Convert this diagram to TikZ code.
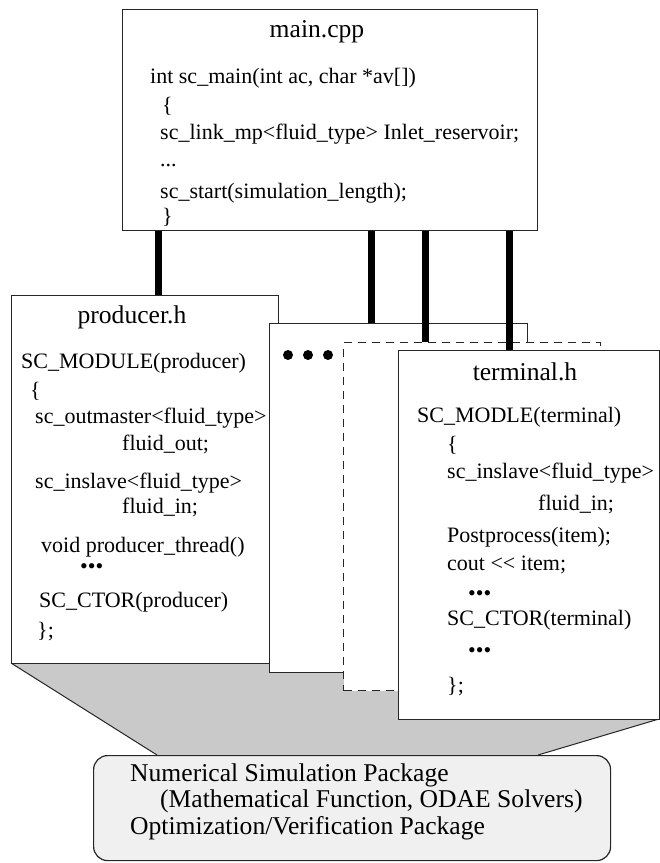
\documentclass[tikz,border=0pt]{standalone}
\usepackage{fontspec}
\setmainfont{Liberation Serif}
\begin{document}
\begin{tikzpicture}[x=1pt,y=-1pt,
  frame/.style={draw=black!85, line width=1.1pt, fill=white, anchor=north west, inner sep=0pt},
  dashframe/.style={frame, dash pattern=on 8pt off 6pt},
  link/.style={line width=7pt, black},
  code/.style={anchor=west, inner sep=0pt, font=\fontsize{22}{26.4}\selectfont},
  title/.style={inner sep=0pt, font=\fontsize{25.6}{30.7}\selectfont},
  pkg/.style={anchor=west, inner sep=0pt, font=\fontsize{25.6}{30.7}\selectfont},
  bigdot/.style={fill=black, draw=none}]
\useasboundingbox (0,0) rectangle (660,863);

% shaded funnel from the modules down to the library box
\fill[black!21] (11,663) -- (659,663) -- (659,719) -- (538,755) -- (157,755) -- cycle;
\draw[line width=1pt, black!85] (11,663) -- (157,755);
\draw[line width=1pt, black!85] (659,719) -- (538,755);

% library box
\node[draw=black!85, line width=1.2pt, fill=black!6, rounded corners=14pt,
      anchor=north west, minimum width=517pt, minimum height=105pt] (lib) at (93,755) {};

% main program
\node[frame, minimum width=415pt, minimum height=221pt] (main) at (122,9) {};
% modules
\node[frame, minimum width=267pt, minimum height=368pt] (prod) at (11,295) {};
\node[frame, minimum width=258pt, minimum height=349pt] (mid) at (269,323) {};
\node[dashframe, minimum width=257pt, minimum height=348pt] (dash) at (343,342) {};
\node[frame, minimum width=261pt, minimum height=369pt] (term) at (398,350) {};

% main.cpp
\node[title] (mtitle) at (317,32) {main.cpp};
\node[code] (m1) at (150,78) {\strut int sc\_main(int ac, char *av[])};
\node[code] (m2) at (162,107) {\strut \{};
\node[code] (m3) at (160,134) {\strut sc\_link\_mp<fluid\_type> Inlet\_reservoir;};
\node[code] (m4) at (160,161) {\strut ...};
\node[code] (m5) at (160,193) {\strut sc\_start(simulation\_length);};
\node[code] (m6) at (162,218) {\strut \}};

% producer.h
\node[title] (ptitle) at (132,317) {producer.h};
\node[code] (p1) at (21,363) {\strut SC\_MODULE(producer)};
\node[code] (p2) at (30,392) {\strut \{};
\node[code] (p3) at (35,418) {\strut sc\_outmaster<fluid\_type>};
\node[code] (p4) at (122,445) {\strut fluid\_out;};
\node[code] (p5) at (35,483) {\strut sc\_inslave<fluid\_type>};
\node[code] (p6) at (122,508) {\strut fluid\_in;};
\node[code] (p7) at (41,547) {\strut void producer\_thread()};
\node[code] (p8) at (80,568) {\strut •••};
\node[code] (p9) at (39,602) {\strut SC\_CTOR(producer)};
\node[code] (p10) at (37,632) {\strut \};};

% terminal.h
\node[title] (ttitle) at (525,372) {terminal.h};
\node[code] (t1) at (417,417) {\strut SC\_MODLE(terminal)};
\node[code] (t2) at (447,446) {\strut \{};
\node[code] (t3) at (447,473) {\strut sc\_inslave<fluid\_type>};
\node[code] (t4) at (538,505) {\strut fluid\_in;};
\node[code] (t5) at (447,537) {\strut Postprocess(item);};
\node[code] (t6) at (447,565) {\strut cout <\kern0pt< item;};
\node[code] (t7) at (468,595) {\strut •••};
\node[code] (t8) at (447,620) {\strut SC\_CTOR(terminal)};
\node[code] (t9) at (468,652) {\strut •••};
\node[code] (t10) at (447,687) {\strut \};};

% further modules
\fill[bigdot] (288,355) circle (5pt);
\fill[bigdot] (308,355) circle (5pt);
\fill[bigdot] (328,355) circle (5pt);

% library text
\node[pkg] (l1) at (130,775) {\strut Numerical Simulation Package};
\node[pkg] (l2) at (160,801) {\strut (Mathematical Function, ODAE Solvers)};
\node[pkg] (l3) at (130,828) {\strut Optimization/Verification Package};

% links from main.cpp to the modules
\coordinate (x1) at (158,0);
\coordinate (x2) at (371,0);
\coordinate (x3) at (425,0);
\coordinate (x4) at (509,0);
\draw[link] (main.south -| x1) -- (prod.north -| x1);
\draw[link] (main.south -| x2) -- (mid.north -| x2);
\draw[link] (main.south -| x3) -- (dash.north -| x3);
\draw[link] (main.south -| x4) -- (term.north -| x4);
\end{tikzpicture}
\end{document}
